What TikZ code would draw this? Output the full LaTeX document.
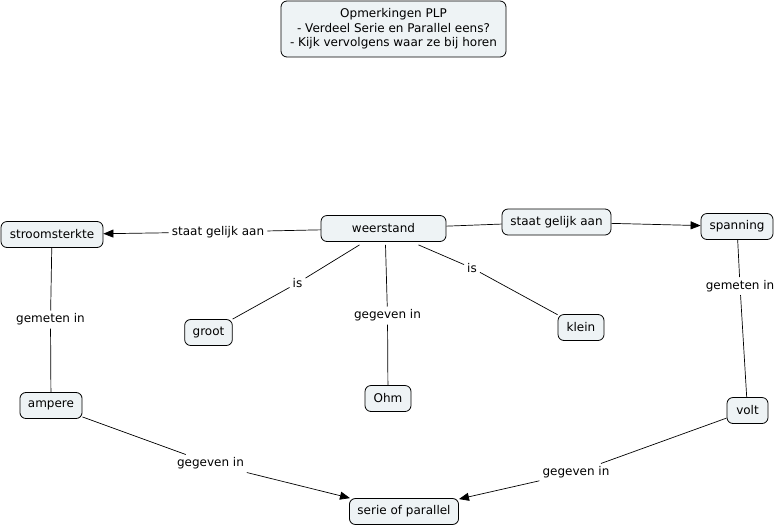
\documentclass[tikz,border=0pt]{standalone}
\usepackage{fontspec}
\setmainfont{DejaVu Sans}
\usetikzlibrary{arrows.meta}
\definecolor{cmapfill}{HTML}{EEF3F5}
\tikzset{
  concept/.style={draw=black,line width=0.8pt,fill=cmapfill,rounded corners=6pt,
    inner xsep=8pt,minimum height=26pt,font=\fontsize{12}{14.5}\selectfont},
  linkword/.style={inner sep=3pt,font=\fontsize{12}{14.5}\selectfont},
  link/.style={line width=0.7pt},
  linkarrow/.style={line width=0.7pt,-{Triangle[length=10pt,width=8pt]}}
}
\begin{document}
\begin{tikzpicture}[x=1pt,y=-1pt]
    \useasboundingbox (0,0) rectangle (778,528);
    % concepts
    \node[concept,minimum width=225pt,minimum height=56pt,align=center] (note) at (393.5,29)
      {Opmerkingen PLP\\- Verdeel Serie en Parallel eens?\\- Kijk vervolgens waar ze bij horen};
    \node[concept,minimum width=102pt] (stroom) at (52,234.5) {stroomsterkte};
    \node[concept,minimum width=125pt] (weerstand) at (383.5,228.5) {weerstand};
    \node[concept,minimum width=109pt] (gelijkR) at (556.5,222) {staat gelijk aan};
    \node[concept,minimum width=72pt] (spanning) at (737,226.5) {spanning};
    \node[concept,minimum width=47pt] (groot) at (208.5,332.5) {groot};
    \node[concept,minimum width=46pt] (klein) at (581,327.5) {klein};
    \node[concept,minimum width=46pt] (ohm) at (388,398.5) {Ohm};
    \node[concept,minimum width=62pt] (ampere) at (51,405.5) {ampere};
    \node[concept,minimum width=41pt] (volt) at (747.5,410.5) {volt};
    \node[concept,minimum width=108pt] (serie) at (404,511.5) {serie of parallel};
    % linking words
    \node[linkword] (gelijkL) at (218,232) {staat gelijk aan};
    \node[linkword] (isL) at (297.5,283) {is};
    \node[linkword] (isR) at (472,268) {is};
    \node[linkword] (gegevenM) at (387.5,315.5) {gegeven in};
    \node[linkword] (gemetenL) at (50.5,319.5) {gemeten in};
    \node[linkword] (gemetenR) at (740,286) {gemeten in};
    \node[linkword] (gegevenL) at (210.5,463.5) {gegeven in};
    \node[linkword] (gegevenR) at (576,472.5) {gegeven in};
    % connections
    \draw[link] (weerstand) -- (gelijkL);
    \draw[linkarrow] (gelijkL) -- (stroom);
    \draw[link] (weerstand) -- (gelijkR);
    \draw[linkarrow] (gelijkR) -- (spanning);
    \draw[link] (weerstand.south) ++(-24,3) coordinate (w1);
    \draw[link] (w1) -- (isL);
    \draw[link] (isL) -- (groot);
    \draw[link] (weerstand.south) ++(35,3) coordinate (w2);
    \draw[link] (w2) -- (isR);
    \draw[link] (isR) -- (klein);
    \draw[link] (weerstand.south) ++(2,3) coordinate (w3);
    \draw[link] (w3) -- (gegevenM);
    \draw[link] (gegevenM) -- (ohm);
    \draw[link] (stroom) -- (gemetenL);
    \draw[link] (gemetenL) -- (ampere);
    \draw[link] (spanning) -- (gemetenR);
    \draw[link] (gemetenR) -- (volt);
    \draw[link] (ampere) -- (gegevenL);
    \draw[linkarrow] (gegevenL) -- (serie);
    \draw[link] (volt) -- (gegevenR);
    \draw[linkarrow] (gegevenR) -- (serie);
\end{tikzpicture}
\end{document}
